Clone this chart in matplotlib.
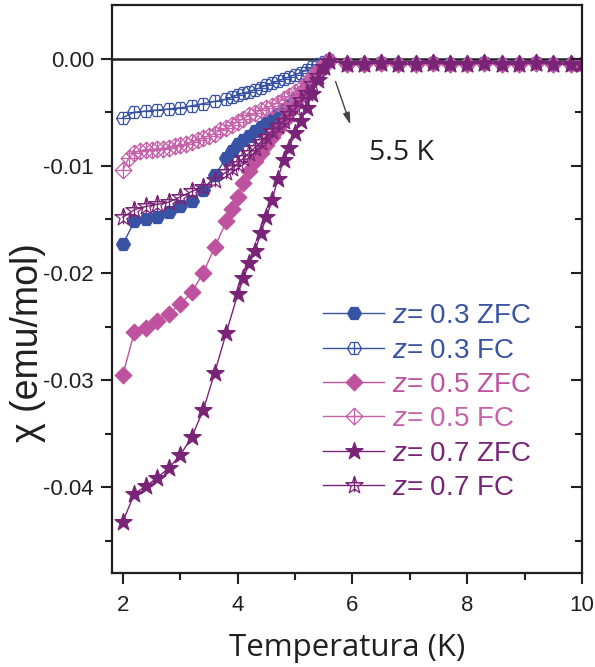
import numpy as np
import matplotlib.pyplot as plt
from matplotlib.path import Path

plt.rcParams['font.family'] = ['Liberation Sans', 'DejaVu Sans']
plt.rcParams['mathtext.fontset'] = 'custom'
plt.rcParams['mathtext.it'] = 'Liberation Sans:italic'
plt.rcParams['mathtext.rm'] = 'Liberation Sans'

# temperaturas (K)
T_lo = [2.0, 2.2, 2.4, 2.6, 2.8, 3.0, 3.2, 3.4, 3.6, 3.8,
        3.9, 4.0, 4.1, 4.2, 4.3, 4.4, 4.5, 4.6, 4.7, 4.8,
        4.9, 5.0, 5.1, 5.2, 5.3, 5.4, 5.5, 5.6]
T_lo_07 = [2.0, 2.2, 2.4, 2.6, 2.8, 3.0, 3.2, 3.4, 3.6, 3.8, 4.0,
           4.1, 4.2, 4.3, 4.4, 4.5, 4.6, 4.7, 4.8,
           4.9, 5.0, 5.1, 5.2, 5.3, 5.4, 5.5, 5.6]
T_fc05 = [2.0, 2.1, 2.2, 2.3, 2.4, 2.5, 2.6, 2.7, 2.8, 2.9,
          3.0, 3.1, 3.2, 3.3, 3.4, 3.5, 3.6, 3.7, 3.8, 3.9,
          4.0, 4.1, 4.2, 4.3, 4.4, 4.5, 4.6, 4.7, 4.8, 4.9,
          5.0, 5.1, 5.2, 5.3, 5.4, 5.5, 5.6]
T_flat = [5.9, 6.2, 6.5, 6.8, 7.1, 7.4, 7.7, 8.0, 8.3, 8.6, 8.9, 9.2, 9.5, 9.8, 10.0]

# susceptibilidade (emu/mol)
zfc03 = [-0.0173, -0.0152, -0.0150, -0.0148, -0.0143, -0.0138, -0.0133, -0.0123, -0.0109, -0.0093,
         -0.0086, -0.0080, -0.0076, -0.0072, -0.0068, -0.0064, -0.0060, -0.0056, -0.0052, -0.0048,
         -0.0043, -0.0038, -0.0032, -0.0026, -0.0019, -0.0012, -0.0006, -0.0002]
fc03 = [-0.0055, -0.0050, -0.0049, -0.0048, -0.0047, -0.0046, -0.0044, -0.0042, -0.0040, -0.0038,
        -0.0036, -0.0034, -0.0032, -0.0031, -0.0029, -0.0027, -0.0025, -0.0023, -0.0021, -0.0019,
        -0.0017, -0.0015, -0.0013, -0.0011, -0.0008, -0.0005, -0.0003, -0.0001]
zfc05 = [-0.0295, -0.0255, -0.0251, -0.0245, -0.0238, -0.0229, -0.0218, -0.0200, -0.0176, -0.0152,
         -0.0140, -0.0129, -0.0116, -0.0105, -0.0096, -0.0088, -0.0081, -0.0073, -0.0066, -0.0058,
         -0.0050, -0.0042, -0.0034, -0.0026, -0.0018, -0.0011, -0.0005, -0.0001]
fc05 = [-0.0104, -0.0093, -0.0088, -0.0086, -0.0085, -0.0085, -0.0084, -0.0084, -0.0083, -0.0082,
        -0.0081, -0.0080, -0.0078, -0.0076, -0.0074, -0.0072, -0.0070, -0.0067, -0.0065, -0.0062,
        -0.0059, -0.0056, -0.0053, -0.0051, -0.0048, -0.0046, -0.0044, -0.0041, -0.0038, -0.0035,
        -0.0031, -0.0027, -0.0022, -0.0017, -0.0011, -0.0006, -0.0002]
zfc07 = [-0.0432, -0.0406, -0.0399, -0.0391, -0.0382, -0.0370, -0.0353, -0.0328, -0.0293, -0.0256, -0.0220,
         -0.0205, -0.0191, -0.0180, -0.0163, -0.0148, -0.0132, -0.0112, -0.0095,
         -0.0083, -0.0069, -0.0058, -0.0046, -0.0033, -0.0020, -0.0008, -0.0002]
fc07 = [-0.0148, -0.0141, -0.0138, -0.0136, -0.0134, -0.0129, -0.0124, -0.0120, -0.0113, -0.0106,
        -0.0102, -0.0098, -0.0093, -0.0088, -0.0083, -0.0078, -0.0073, -0.0068, -0.0063, -0.0058,
        -0.0052, -0.0046, -0.0039, -0.0032, -0.0024, -0.0016, -0.0008, -0.0002]
chi_flat = [-0.0005, -0.0005, -0.0004, -0.0005, -0.0005, -0.0004, -0.0005, -0.0005,
            -0.0004, -0.0005, -0.0005, -0.0004, -0.0005, -0.0005, -0.0005]

azul = '#3953a4'
rosa = '#bf529e'
rosa2 = '#c562aa'
roxo = '#7a2478'

M, L, C = Path.MOVETO, Path.LINETO, Path.CLOSEPOLY


def forma(verts, cruz=None):
    v = list(verts) + [verts[0]]
    c = [M] + [L] * (len(verts) - 1) + [C]
    if cruz:
        for a, b in cruz:
            v += [a, b]
            c += [M, L]
    return Path(v, c)


hexv = [(np.cos(a), np.sin(a)) for a in np.radians(np.arange(0, 360, 60))]
diav = [(1, 0), (0, 1), (-1, 0), (0, -1)]
starv = []
for k in range(10):
    r = 1.0 if k % 2 == 0 else 0.4
    a = np.radians(90 + 36 * k)
    starv.append((r * np.cos(a), r * np.sin(a)))

hex_cheio = forma(hexv)
hex_aberto = forma(hexv, [((-1, 0), (1, 0)), ((0, -0.87), (0, 0.87))])
dia_cheio = forma(diav)
dia_aberto = forma(diav, [((-1, 0), (1, 0)), ((0, -1), (0, 1))])
star_cheia = forma(starv)
star_aberta = forma(starv, [((-0.95, 0.31), (0.95, 0.31)), ((0, -0.75), (0, 1))])

fig = plt.figure(figsize=(5.95, 6.67), dpi=100)
ax = fig.add_axes([112 / 595, 94 / 667, 470 / 595, 568 / 667])

ax.axhline(0, color='#231f20', lw=1.8, zorder=1)

series = [
    (T_lo, zfc03, azul, hex_cheio, True, 10, '$z$= 0.3 ZFC'),
    (T_lo, fc03, azul, hex_aberto, False, 10, '$z$= 0.3 FC'),
    (T_lo, zfc05, rosa, dia_cheio, True, 12, '$z$= 0.5 ZFC'),
    (T_fc05, fc05, rosa2, dia_aberto, False, 12, '$z$= 0.5 FC'),
    (T_lo_07, zfc07, roxo, star_cheia, True, 13, '$z$= 0.7 ZFC'),
    (T_lo, fc07, roxo, star_aberta, False, 13, '$z$= 0.7 FC'),
]
for T, chi, cor, mk, cheio, ms, lab in series:
    ax.plot(T + T_flat, chi + chi_flat, color=cor, lw=1.0, marker=mk, ms=ms,
            mfc=cor if cheio else 'none', mec=cor, mew=0.9, label=lab)

ax.set_xlim(1.81, 10)
ax.set_ylim(-0.048, 0.005)
ax.set_xticks([2, 4, 6, 8, 10])
ax.set_xticks([3, 5, 7, 9], minor=True)
yt = [0, -0.01, -0.02, -0.03, -0.04]
ax.set_yticks(yt)
ax.set_yticklabels(['0.00', '-0.01', '-0.02', '-0.03', '-0.04'])
ax.set_yticks([-0.005, -0.015, -0.025, -0.035, -0.045], minor=True)
ax.tick_params(which='both', direction='out', width=1.5, colors='#231f20',
               labelsize=16, top=False, right=False)
ax.tick_params(which='major', length=8, pad=5)
ax.tick_params(which='minor', length=5)
ax.tick_params(axis='x', pad=8)
for s in ax.spines.values():
    s.set_linewidth(1.6)
    s.set_color('#231f20')

# ticks para dentro no eixo da direita
ax2 = ax.twinx()
ax2.set_ylim(ax.get_ylim())
ax2.set_yticks(yt)
ax2.set_yticks([-0.005, -0.015, -0.025, -0.035, -0.045], minor=True)
ax2.tick_params(which='both', direction='in', width=1.5, colors='#231f20',
                labelright=False)
ax2.tick_params(which='major', length=8)
ax2.tick_params(which='minor', length=5)
for s in ax2.spines.values():
    s.set_visible(False)

ax.set_xlabel('Temperatura (K)', family='Open Sans', fontsize=22.5,
              color='#231f20', labelpad=12)
ax.set_ylabel('χ (emu/mol)', fontsize=27, color='#231f20')
ax.yaxis.set_label_coords(-0.14, 0.405)

ax.annotate('', xy=(5.98, -0.0064), xytext=(5.69, -0.0019),
            arrowprops=dict(arrowstyle='-|>,head_width=0.2,head_length=0.7',
                            color='#444444', lw=1.0))
ax.text(6.28, -0.0088, '5.5 K', family='Open Sans', fontsize=20.5,
        color='#231f20', va='center', ha='left')

ax.legend(loc='upper left', bbox_to_anchor=(0.449, 0.475), frameon=False,
          fontsize=20, handlelength=2.2, handletextpad=0.3,
          labelspacing=0.3, borderpad=0, borderaxespad=0,
          labelcolor='linecolor')

fig.savefig('out.png', dpi=100)
